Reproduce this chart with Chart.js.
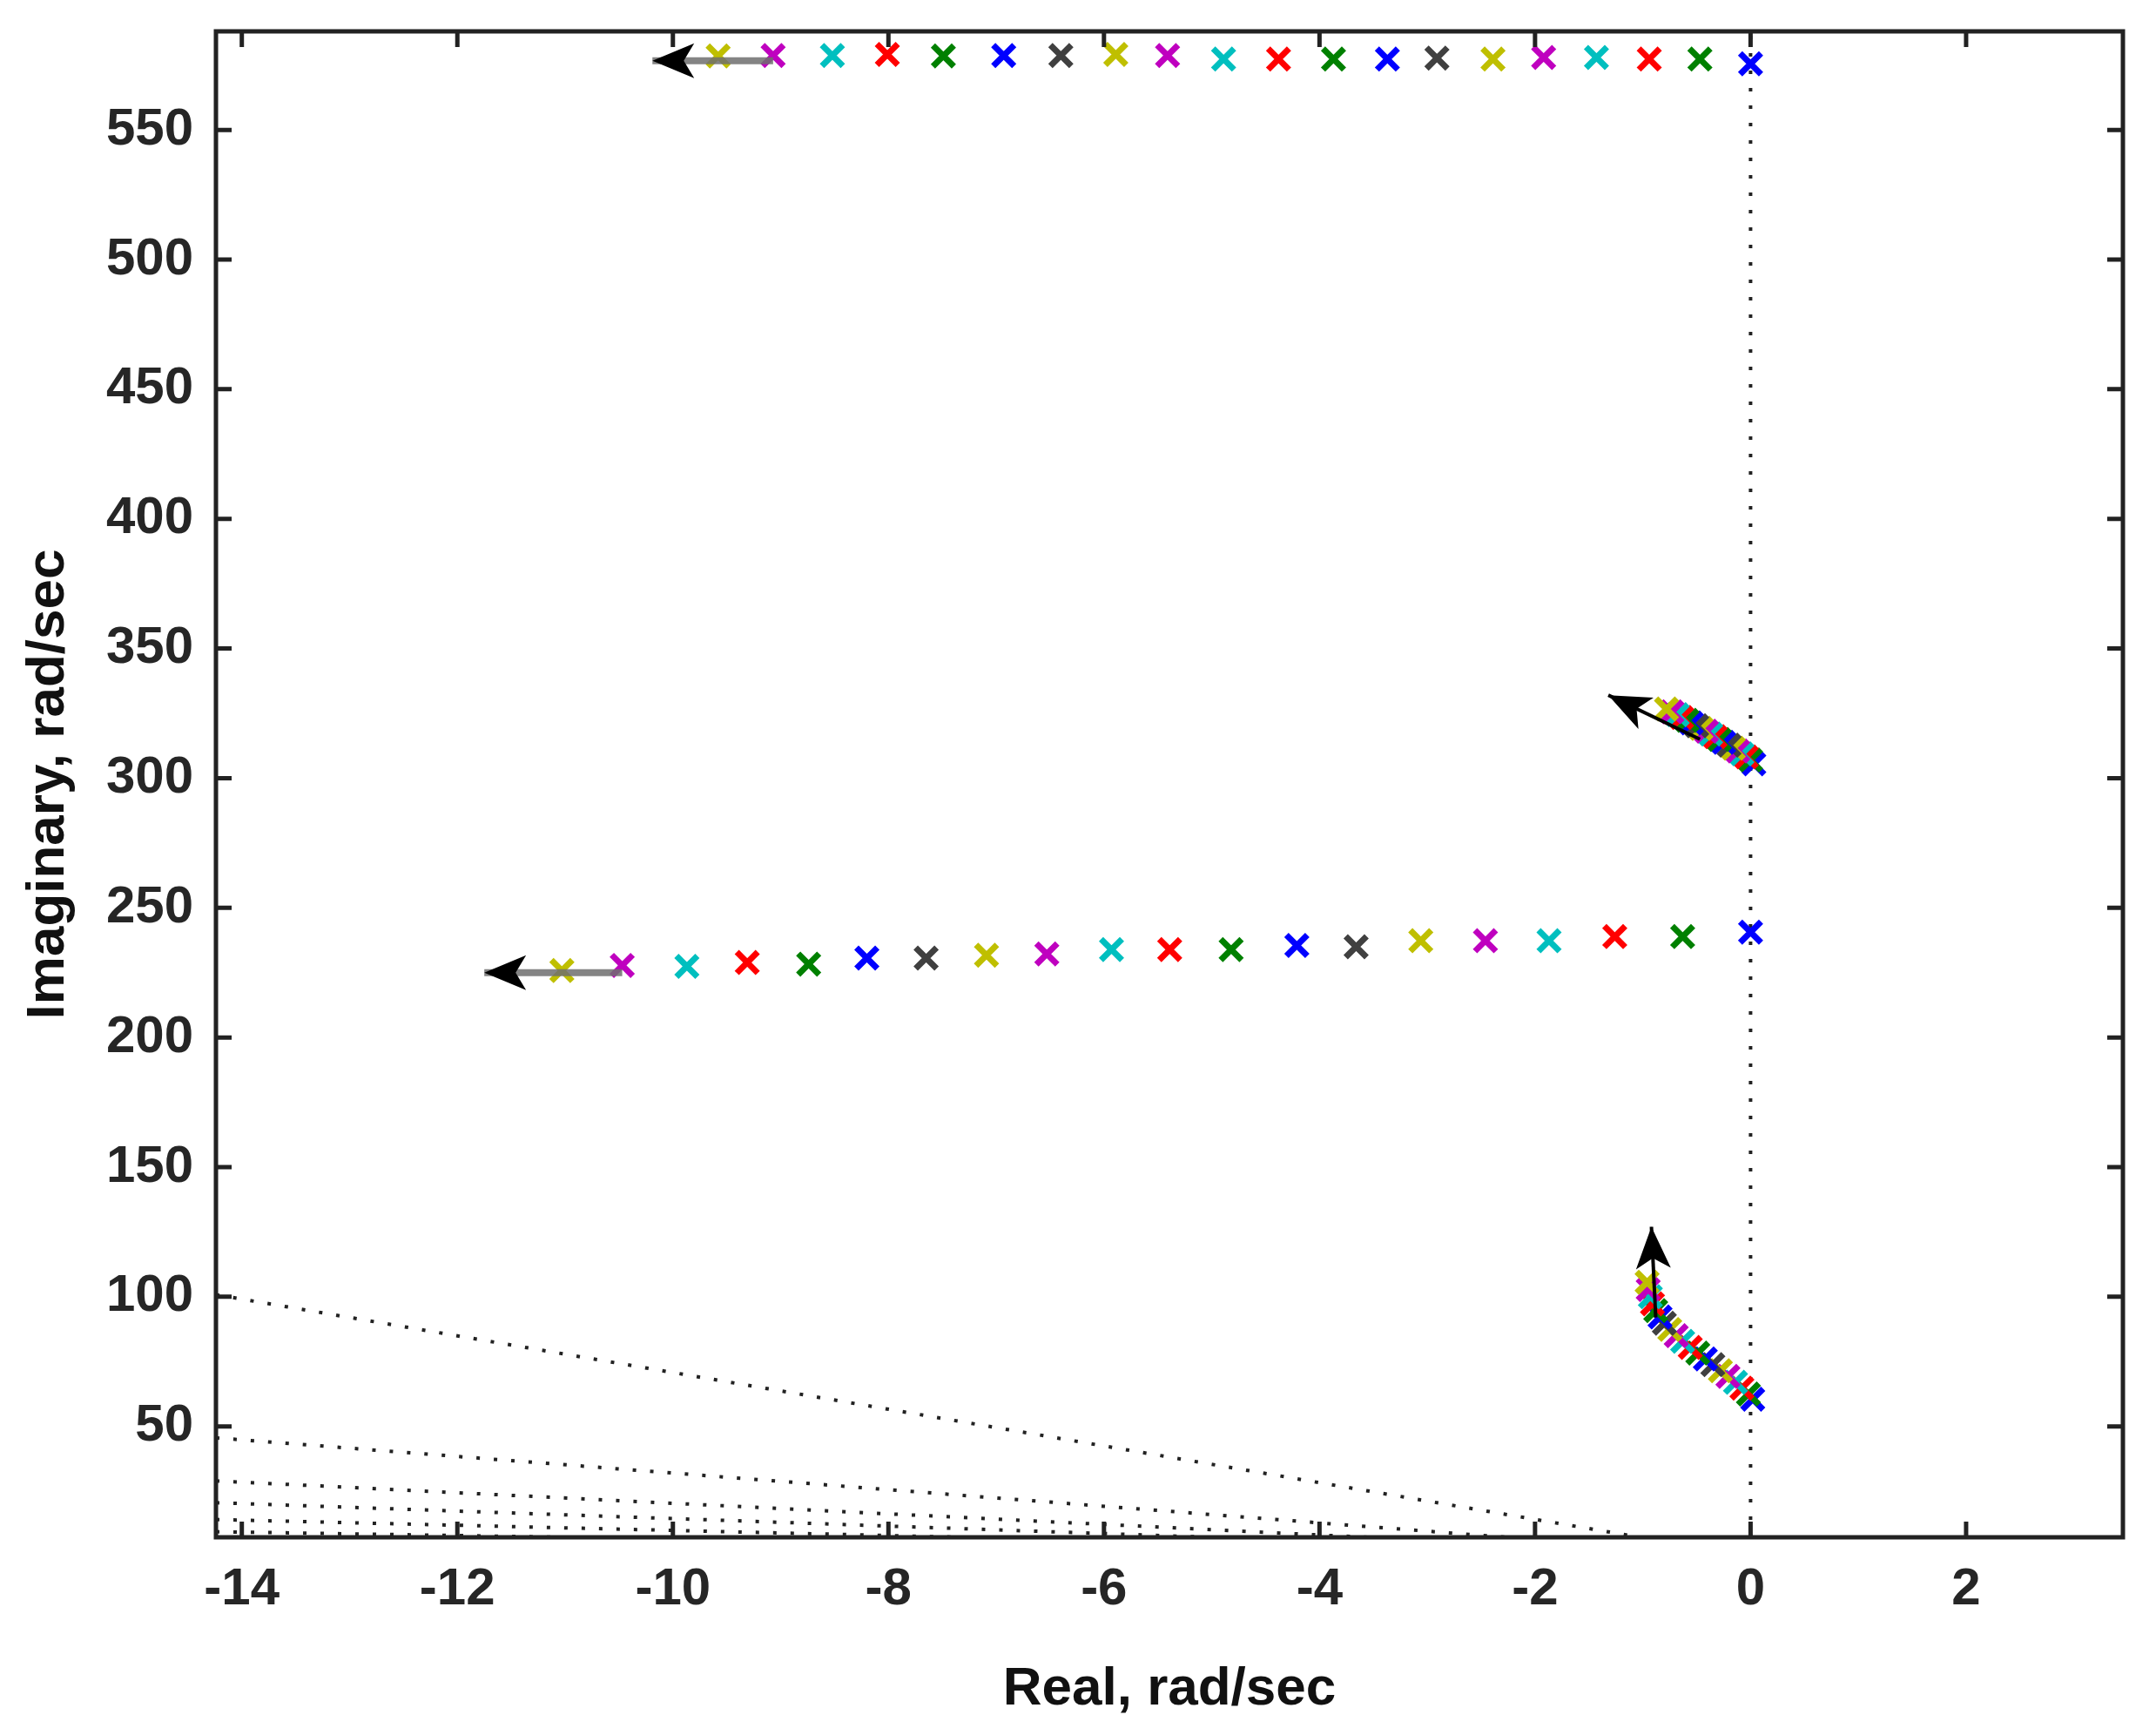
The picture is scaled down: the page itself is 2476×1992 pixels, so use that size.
<!DOCTYPE html>
<html>
<head>
<meta charset="utf-8">
<script src="https://cdn.jsdelivr.net/npm/chart.js@4.4.0/dist/chart.umd.min.js"></script>
<style>
  html, body { margin: 0; padding: 0; background: #fff; }
  #wrap { width: 2476px; height: 1992px; }
</style>
</head>
<body>
<div id="wrap"><canvas id="rootLocus" width="2476" height="1992"></canvas></div>
<script>
//------------------ Axis ranges / ticks ------------------//
const xMin = -14.24, xMax = 3.455;
const yMin = 7.25, yMax = 588;
const xTicks = [-14, -12, -10, -8, -6, -4, -2, 0, 2];
const yTicks = [50, 100, 150, 200, 250, 300, 350, 400, 450, 500, 550];

//------------------ Pole positions, one entry per iteration ------------------//
const mode1Re = [0.00, -0.47, -0.94, -1.43, -1.92, -2.39, -2.91, -3.37, -3.87, -4.38,
                 -4.89, -5.41, -5.89, -6.40, -6.93, -7.49, -8.01, -8.52, -9.07, -9.58];
const mode1Im = [575.5, 577.3, 577.3, 577.9, 577.9, 577.3, 577.7, 577.3, 577.3, 577.3,
                 577.3, 578.7, 579.1, 578.7, 578.7, 578.5, 579.1, 578.7, 578.7, 578.5];

const mode2Re = [0.00, -0.63, -1.26, -1.87, -2.46, -3.06, -3.66, -4.21, -4.82, -5.39,
                 -5.93, -6.53, -7.09, -7.65, -8.20, -8.74, -9.31, -9.87, -10.47, -11.03];
const mode2Im = [240.6, 238.9, 238.9, 237.3, 237.3, 237.3, 235.0, 235.5, 233.9, 233.9,
                 233.9, 232.2, 231.7, 230.6, 230.6, 228.3, 228.9, 227.4, 227.8, 225.8];

const mode3Re = [0.03, 0.00, -0.04, -0.08, -0.12, -0.16, -0.20, -0.25, -0.29, -0.33,
                 -0.37, -0.41, -0.46, -0.50, -0.55, -0.59, -0.64, -0.68, -0.73, -0.78];
const mode3Im = [305.5, 307.0, 308.2, 309.4, 310.5, 311.6, 312.7, 313.8, 314.9, 316.0,
                 317.0, 318.1, 319.2, 320.2, 321.3, 322.3, 323.4, 324.5, 325.6, 326.7];

const mode4Re = [0.02, -0.02, -0.08, -0.14, -0.21, -0.28, -0.35, -0.42, -0.49, -0.56,
                 -0.63, -0.69, -0.75, -0.80, -0.84, -0.88, -0.91, -0.93, -0.95, -0.96];
const mode4Im = [60.5, 62.5, 64.8, 67.0, 69.3, 71.5, 73.8, 76.0, 78.3, 80.5,
                 82.8, 85.0, 87.4, 89.8, 92.2, 94.7, 97.3, 100.0, 102.8, 105.6];

// trend arrows (tail -> head), one per mode
const arrowTailRe = [-9.07, -10.47, -0.47, -0.88];
const arrowTailIm = [576.7, 225.0, 315.0, 92.0];
const arrowHeadRe = [-10.19, -11.75, -1.32, -0.92];
const arrowHeadIm = [576.7, 225.0, 332.0, 127.0];

// constant damping lines: value at the left edge, all running to the origin
const dampEdgeRe = -14.24;
const dampEdgeIm = [100.8, 45.6, 29.0, 20.6, 14.1, 9.4];

//------------------ Styles ------------------//
const iterColors = ['#0000ff', '#008000', '#ff0000', '#00bfbf', '#bf00bf', '#bfbf00', '#404040'];
const shaftColors = ['rgba(110,110,110,0.85)', 'rgba(110,110,110,0.85)', '#000', '#000'];
const shaftWidths = [8, 8, 4, 4];
const inkColor = '#222';
const tickFont = { family: 'Liberation Sans, Arial, sans-serif', size: 60, weight: 'bold' };
const titleFont = { family: 'Liberation Sans, Arial, sans-serif', size: 62, weight: 'bold' };

//------------------ Datasets ------------------//
const datasets = [];

dampEdgeIm.forEach(y0 => {
  datasets.push({
    data: [{ x: dampEdgeRe, y: y0 }, { x: 0, y: 0 }],
    showLine: true, pointRadius: 0, borderColor: inkColor, borderWidth: 4,
    borderDash: [4, 16], borderCapStyle: 'butt', order: 40
  });
});

// imaginary axis
datasets.push({
  data: [{ x: 0, y: yMin }, { x: 0, y: yMax }],
  showLine: true, pointRadius: 0, borderColor: inkColor, borderWidth: 4,
  borderDash: [4, 16], borderCapStyle: 'butt', order: 40
});

for (let i = 0; i < mode1Re.length; i++) {
  const c = iterColors[i % iterColors.length];
  datasets.push({
    data: [
      { x: mode1Re[i], y: mode1Im[i] },
      { x: mode2Re[i], y: mode2Im[i] },
      { x: mode3Re[i], y: mode3Im[i] },
      { x: mode4Re[i], y: mode4Im[i] }
    ],
    pointStyle: 'crossRot', pointRadius: 17, borderWidth: 7,
    borderColor: c, backgroundColor: c, order: 30 - i
  });
}

arrowTailRe.forEach((x0, k) => {
  datasets.push({
    data: [{ x: x0, y: arrowTailIm[k] }, { x: arrowHeadRe[k], y: arrowHeadIm[k] }],
    showLine: true, pointRadius: 0, borderColor: shaftColors[k],
    borderWidth: shaftWidths[k], order: 0
  });
});

//------------------ Plugins ------------------//
const arrowHeads = {
  id: 'arrowHeads',
  afterDatasetsDraw(chart) {
    const { ctx, scales: { x, y } } = chart;
    ctx.save();
    ctx.fillStyle = '#000';
    arrowHeadRe.forEach((hx, k) => {
      const px = x.getPixelForValue(hx), py = y.getPixelForValue(arrowHeadIm[k]);
      const tx = x.getPixelForValue(arrowTailRe[k]), ty = y.getPixelForValue(arrowTailIm[k]);
      const ang = Math.atan2(py - ty, px - tx);
      const len = 48, half = 20;
      const bx = px - len * Math.cos(ang), by = py - len * Math.sin(ang);
      ctx.beginPath();
      ctx.moveTo(px, py);
      ctx.lineTo(bx + half * Math.sin(ang), by - half * Math.cos(ang));
      ctx.lineTo(px - 0.75 * len * Math.cos(ang), py - 0.75 * len * Math.sin(ang));
      ctx.lineTo(bx - half * Math.sin(ang), by + half * Math.cos(ang));
      ctx.closePath();
      ctx.fill();
    });
    ctx.restore();
  }
};

// gnuplot style frame with inward ticks on all four sides
const frame = {
  id: 'frame',
  afterDatasetsDraw(chart) {
    const { ctx, chartArea: a, scales: { x, y } } = chart;
    const tl = 18;
    ctx.save();
    ctx.strokeStyle = inkColor;
    ctx.lineWidth = 5;
    ctx.beginPath();
    xTicks.forEach(v => {
      const px = x.getPixelForValue(v);
      ctx.moveTo(px, a.bottom); ctx.lineTo(px, a.bottom - tl);
      ctx.moveTo(px, a.top); ctx.lineTo(px, a.top + tl);
    });
    yTicks.forEach(v => {
      const py = y.getPixelForValue(v);
      ctx.moveTo(a.left, py); ctx.lineTo(a.left + tl, py);
      ctx.moveTo(a.right, py); ctx.lineTo(a.right - tl, py);
    });
    ctx.stroke();
    ctx.strokeRect(a.left, a.top, a.right - a.left, a.bottom - a.top);
    ctx.restore();
  }
};

// keep the label overhang from pushing the plot frame around
function noOverhang(s) {
  s.paddingTop = 0; s.paddingBottom = 0; s.paddingLeft = 0; s.paddingRight = 0;
}

//------------------ Chart ------------------//
const ctx = document.getElementById('rootLocus').getContext('2d');
const chart = new Chart(ctx, {
  type: 'scatter',
  data: { datasets },
  options: {
    responsive: false,
    animation: false,
    devicePixelRatio: 1,
    layout: { padding: { left: 0, right: 38, top: 36, bottom: 0 } },
    plugins: { legend: { display: false }, tooltip: { enabled: false } },
    scales: {
      x: {
        type: 'linear', min: xMin, max: xMax,
        afterBuildTicks: s => { s.ticks = xTicks.map(v => ({ value: v })); },
        afterFit: s => { s.height = 227; noOverhang(s); },
        grid: { display: false },
        border: { display: false },
        ticks: { autoSkip: false, maxRotation: 0, padding: 16, color: '#262626', font: tickFont },
        title: { display: true, text: 'Real, rad/sec', color: '#111', font: titleFont,
                 padding: { top: 0, bottom: 15 } }
      },
      y: {
        type: 'linear', min: yMin, max: yMax,
        afterBuildTicks: s => { s.ticks = yTicks.map(v => ({ value: v })); },
        afterFit: s => { s.width = 248; noOverhang(s); },
        grid: { display: false },
        border: { display: false },
        ticks: { autoSkip: false, padding: 18, color: '#262626', font: tickFont },
        title: { display: true, text: 'Imaginary, rad/sec', color: '#111', font: titleFont,
                 padding: { top: 19, bottom: 0 } }
      }
    }
  },
  plugins: [arrowHeads, frame]
});
</script>
</body>
</html>
